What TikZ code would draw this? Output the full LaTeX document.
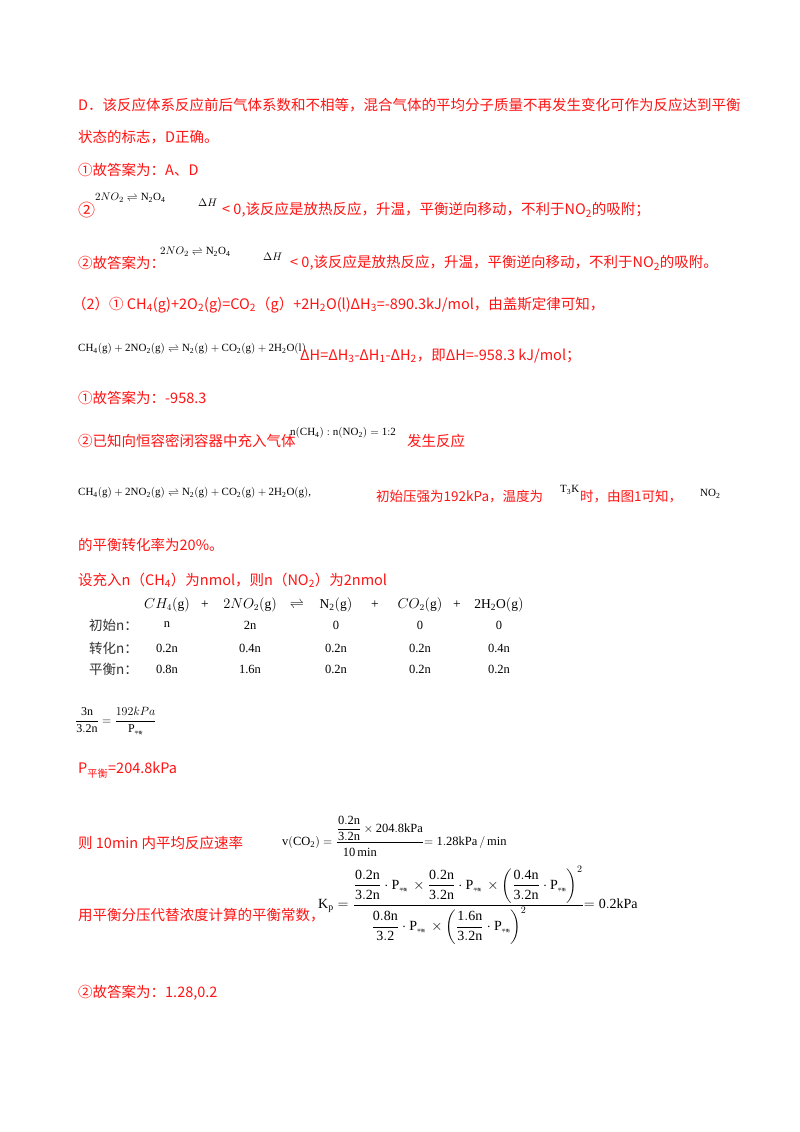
\documentclass[tikz,border=0pt]{standalone}
\usepackage{fontspec}
\usepackage{amsmath}
\setmainfont{Liberation Serif}
\newfontfamily\cjk{Noto Sans CJK SC}
\definecolor{rd}{RGB}{255,20,20}
\tikzset{t/.style={anchor=west,inner sep=0pt,font=\cjk\fontsize{14.5}{16}\selectfont,text=rd},
 ts/.style={t,font=\cjk\fontsize{13.5}{16}\selectfont},
 f/.style={anchor=west,inner sep=0pt,font=\fontsize{11}{13}\selectfont},
 c/.style={inner sep=0pt,font=\fontsize{13.5}{15}\selectfont}}
\newcommand{\pb}{\mbox{\cjk\fontsize{4}{4}\selectfont 平衡}}
\begin{document}
\begin{tikzpicture}[x=1pt,y=1pt]
\useasboundingbox[fill=white] (0,0) rectangle (800,-1132);
\node[t] (l1) at (78,-105) {D．该反应体系反应前后气体系数和不相等，混合气体的平均分子质量不再发生变化可作为反应达到平衡};
\node[t] (l2) at (78,-137) {状态的标志，D正确。};
\node[t] (l3) at (78,-170) {①故答案为：A、D};
\node[t,font=\cjk\fontsize{17}{18}\selectfont] (l4a) at (78,-210) {②};
\node[f] (l4b) at (95,-198) {$2NO_2 \rightleftharpoons \mathrm{N_2O_4}$};
\node[f] (l4c) at (198,-203) {$\Delta H$};
\node[t] (l4d) at (222,-210) {< 0,该反应是放热反应，升温，平衡逆向移动，不利于NO\textsubscript{2}的吸附；};
\node[t] (l5a) at (78,-263) {②故答案为：};
\node[f] (l5b) at (160,-252) {$2NO_2 \rightleftharpoons \mathrm{N_2O_4}$};
\node[f] (l5c) at (263,-257) {$\Delta H$};
\node[t] (l5d) at (290,-263) {< 0,该反应是放热反应，升温，平衡逆向移动，不利于NO\textsubscript{2}的吸附。};
\node[t] (l6) at (72,-305) {（2）① CH\textsubscript{4}(g)+2O\textsubscript{2}(g)=CO\textsubscript{2}（g）+2H\textsubscript{2}O(l)ΔH\textsubscript{3}=-890.3kJ/mol，由盖斯定律可知，};
\node[f] (l7a) at (78,-349) {$\mathrm{CH_4(g)+2NO_2(g)\rightleftharpoons N_2(g)+CO_2(g)+2H_2O(l)}$};
\node[t] (l7b) at (300,-356) {ΔH=ΔH\textsubscript{3}-ΔH\textsubscript{1}-ΔH\textsubscript{2}，即ΔH=-958.3 kJ/mol；};
\node[t] (l8) at (78,-398) {①故答案为：-958.3};
\node[t] (l9a) at (78,-441) {②已知向恒容密闭容器中充入气体};
\node[f] (l9b) at (290,-433) {$\mathrm{n(CH_4):n(NO_2)=1{:}2}$};
\node[t] (l9c) at (407,-441) {发生反应};
\node[f] (l10a) at (78,-493) {$\mathrm{CH_4(g)+2NO_2(g)\rightleftharpoons N_2(g)+CO_2(g)+2H_2O(g)}$,};
\node[ts] (l10b) at (376,-497) {初始压强为192kPa，温度为};
\node[f] (l10c) at (560,-490) {$\mathrm{T_3K}$};
\node[ts] (l10d) at (580,-497) {时，由图1可知，};
\node[f] (l10e) at (700,-494) {$\mathrm{NO_2}$};
\node[t] (l11) at (78,-545) {的平衡转化率为20\%。};
\node[t] (l12) at (78,-580) {设充入n（CH\textsubscript{4}）为nmol，则n（NO\textsubscript{2}）为2nmol};
% table
\node[c] (h1) at (167,-605) {$CH_4\mathrm{(g)}$};
\node[c] (h2) at (205,-605) {+};
\node[c] (h3) at (250,-605) {$2NO_2\mathrm{(g)}$};
\node[c] (h4) at (297,-605) {$\rightleftharpoons$};
\node[c] (h5) at (336,-605) {$\mathrm{N_2(g)}$};
\node[c] (h6) at (375,-605) {+};
\node[c] (h7) at (420,-605) {$CO_2\mathrm{(g)}$};
\node[c] (h8) at (457,-605) {+};
\node[c] (h9) at (499,-605) {$\mathrm{2H_2O(g)}$};
\foreach \lab/\y/\a/\b/\cc/\d/\e in {初始n：/625/n/2n/0/0/0, 转化n：/648/0.2n/0.4n/0.2n/0.2n/0.4n, 平衡n：/669/0.8n/1.6n/0.2n/0.2n/0.2n}{
 \node[c,font=\cjk\fontsize{13.5}{14}\selectfont,text=black!80,anchor=west] (r\y) at (89,-\y) {\lab};
 \node[c,font=\fontsize{12.5}{14}\selectfont] (ra\y) at (167,-\y) {\a};
 \node[c,font=\fontsize{12.5}{14}\selectfont] (rb\y) at (250,-\y) {\b};
 \node[c,font=\fontsize{12.5}{14}\selectfont] (rc\y) at (336,-\y) {\cc};
 \node[c,font=\fontsize{12.5}{14}\selectfont] (rd\y) at (420,-\y) {\d};
 \node[c,font=\fontsize{12.5}{14}\selectfont] (re\y) at (499,-\y) {\e};
}
\node[f,font=\fontsize{12}{14}\selectfont] (eq1) at (75,-721) {$\dfrac{\mathrm{3n}}{\mathrm{3.2n}}=\dfrac{192kPa}{\mathrm{P}_{\pb}}$};
\node[t] (l13) at (78,-770) {P\textsubscript{平衡}=204.8kPa};
\node[t] (l14a) at (78,-843) {则 10min 内平均反应速率};
\node[f,font=\fontsize{12.5}{14}\selectfont] (l14b) at (282,-838) {$\mathrm{v(CO_2)}=\dfrac{\dfrac{\mathrm{0.2n}}{\mathrm{3.2n}}\times\mathrm{204.8kPa}}{\rule{0pt}{12pt}\mathrm{10\,min}\rule[-4pt]{40pt}{0pt}}\mathrm{=1.28kPa\,/\,min}$};
\node[t] (l15a) at (78,-915) {用平衡分压代替浓度计算的平衡常数，};
\node[f,font=\fontsize{14}{16}\selectfont] (l15b) at (318,-905) {$\mathrm{K_p}=\dfrac{\dfrac{\mathrm{0.2n}}{\mathrm{3.2n}}\cdot\mathrm{P}_{\pb}\,\times\dfrac{\mathrm{0.2n}}{\mathrm{3.2n}}\cdot\mathrm{P}_{\pb}\,\times\left(\dfrac{\mathrm{0.4n}}{\mathrm{3.2n}}\cdot\mathrm{P}_{\pb}\right)^{2}}{\dfrac{\mathrm{0.8n}}{\mathrm{3.2}}\cdot\mathrm{P}_{\pb}\,\times\left(\dfrac{\mathrm{1.6n}}{\mathrm{3.2n}}\cdot\mathrm{P}_{\pb}\right)^{2}\rule{36pt}{0pt}}\mathrm{=0.2kPa}$};
\node[t] (l16) at (78,-993) {②故答案为：1.28,0.2};
\end{tikzpicture}
\end{document}
